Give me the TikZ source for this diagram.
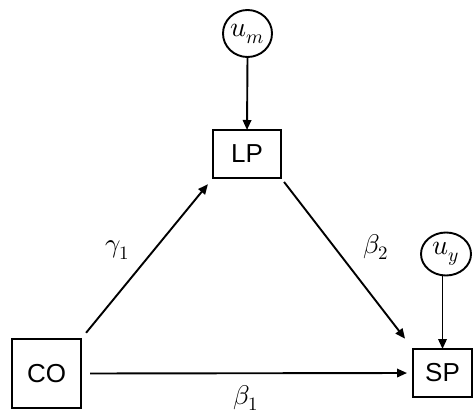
\documentclass[tikz,border=0pt]{standalone}
\usepackage{fontspec}
\usepackage{unicode-math}
\setmathfont{Latin Modern Math}
\setsansfont{Liberation Sans}
\usetikzlibrary{arrows.meta,shapes.geometric}
\begin{document}
\begin{tikzpicture}[x=1pt,y=-1pt,
  every node/.style={inner sep=0pt, outer sep=0pt},
  box/.style={draw, line width=1.9pt, font=\sffamily\fontsize{26}{30}\selectfont},
  err/.style={draw, ellipse, line width=1.9pt, font=\fontsize{28}{32}\selectfont},
  lbl/.style={font=\fontsize{27}{32}\selectfont},
  arr/.style={line width=1.9pt, -{Triangle[length=10pt,width=8.5pt]}}]
\useasboundingbox (0,0) rectangle (473,414);
\node[err, minimum width=49pt, minimum height=47pt] (um) at (247.5,33.5) {$u_m$};
\node[box, minimum width=68pt, minimum height=48pt] (LP) at (247,154) {LP};
\node[box, minimum width=69pt, minimum height=69pt] (CO) at (46.5,373.5) {CO};
\node[box, minimum width=59pt, minimum height=48pt] (SP) at (442.5,373) {SP};
\node[err, minimum width=50pt, minimum height=43pt] (uy) at (446,254) {$u_y$};
\draw[arr] (um.south) -- (LP.north);
\draw[arr] (uy.south -| SP.north) -- (SP.north);
\draw[arr, shorten <=9pt, shorten >=6pt] (CO.east) -- (SP.west);
\draw[arr, shorten <=8pt, shorten >=8pt] (CO.north east) -- (LP.south west);
\draw[arr, shorten <=5pt, shorten >=13pt] (LP.south east) -- (SP.north west);
\node[lbl] (g1) at (117,250) {$\gamma_1$};
\node[lbl] (b2) at (376,247) {$\beta_2$};
\node[lbl] (b1) at (246,398) {$\beta_1$};
\end{tikzpicture}
\end{document}
